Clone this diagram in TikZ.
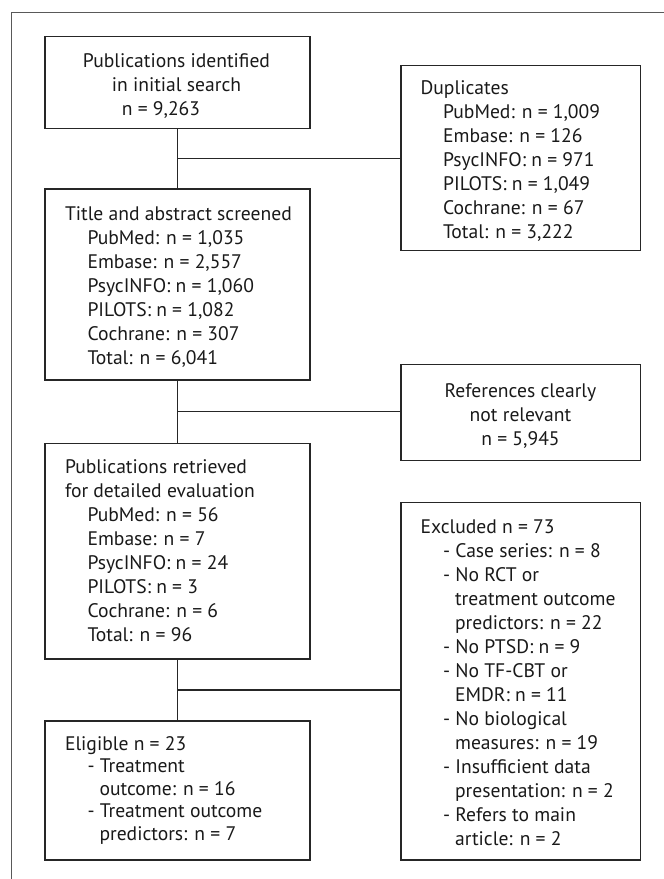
\documentclass[tikz,border=0pt]{standalone}
\usepackage{fontspec}
\setmainfont{PT Sans}
\usetikzlibrary{calc}
\newcommand\myinda{\hspace*{22.5pt}}
\newcommand\myindb{\hspace*{34.5pt}}
\begin{document}
\begin{tikzpicture}[x=1pt,y=-1pt,
  box/.style={draw=black!85, line width=1.3pt, inner sep=0pt},
  conn/.style={draw=black!85, line width=1.3pt},
  frameline/.style={draw=black!65, line width=1.5pt},
  txt/.style={inner sep=0pt, font=\fontsize{19.6}{24}\selectfont, text=black!90},
  ]
\useasboundingbox (0,0) rectangle (664,879);
\coordinate (fa) at (11.5,879);
\coordinate (fb) at (11.5,12.7);
\coordinate (fc) at (664,12.7);
\draw[frameline] (fa) -- (fb) -- (fc);

% boxes
\node[box, minimum width=265pt, minimum height=91.6pt] (b1) at (177.5,82.5) {};
\node[box, minimum width=265pt, minimum height=191pt] (b2) at (177.5,284.5) {};
\node[box, minimum width=265pt, minimum height=215.7pt] (b3) at (177.5,551.2) {};
\node[box, minimum width=265pt, minimum height=139pt] (b4) at (177.5,790.5) {};
\node[box, minimum width=239.7pt, minimum height=185pt] (dup) at (520.8,158.2) {};
\node[box, minimum width=239.7pt, minimum height=96pt] (ref) at (520.8,412.7) {};
\node[box, minimum width=239.7pt, minimum height=357.7pt] (exc) at (520.8,681.2) {};

% texts
\node[txt, align=center, anchor=north] (t1) at (176.5,50.8)
  {\rule{0pt}{16pt}Publications identified\\in initial search\\n = 9,263\hspace*{31pt}};
\node[txt, align=left, anchor=north west] (t2) at (64.8,204.2)
  {\rule{0pt}{16pt}Title and abstract screened\\\myinda PubMed: n = 1,035\\\myinda Embase: n = 2,557\\\myinda PsycINFO: n = 1,060\\\myinda PILOTS: n = 1,082\\\myinda Cochrane: n = 307\\\myinda Total: n = 6,041};
\node[txt, align=left, anchor=north west] (t3) at (64.8,457.5)
  {\rule{0pt}{16pt}Publications retrieved\\for detailed evaluation\\\myinda PubMed: n = 56\\\myinda Embase: n = 7\\\myinda PsycINFO: n = 24\\\myinda PILOTS: n = 3\\\myinda Cochrane: n = 6\\\myinda Total: n = 96};
\node[txt, font=\fontsize{19.6}{22.5}\selectfont, align=left, anchor=north west] (t4) at (64.8,734)
  {\rule{0pt}{16pt}Eligible n = 23\\\myinda - Treatment\\\myindb outcome: n = 16\\\myinda - Treatment outcome\\\myindb predictors: n = 7};
\node[txt, align=left, anchor=north west] (tdup) at (420.4,78.4)
  {\rule{0pt}{16pt}Duplicates\\\myinda PubMed: n = 1,009\\\myinda Embase: n = 126\\\myinda PsycINFO: n = 971\\\myinda PILOTS: n = 1,049\\\myinda Cochrane: n = 67\\\myinda Total: n = 3,222};
\node[txt, align=center, anchor=north] (tref) at (520.5,381.5)
  {\rule{0pt}{16pt}References clearly\\not relevant\\n = 5,945};
\node[txt, align=left, anchor=north west] (texc) at (420.4,517.5)
  {\rule{0pt}{16pt}Excluded n = 73\\\myinda - Case series: n = 8\\\myinda - No RCT or\\\myindb treatment outcome\\\myindb predictors: n = 22\\\myinda - No PTSD: n = 9\\\myinda - No TF-CBT or\\\myindb EMDR: n = 11\\\myinda - No biological\\\myindb measures: n = 19\\\myinda - Insufficient data\\\myindb presentation: n = 2\\\myinda - Refers to main\\\myindb article: n = 2};

% connectors
\coordinate (m1) at ($(b1.south)!0.5!(b2.north)$);
\coordinate (m2) at ($(b2.south)!0.5!(b3.north)$);
\coordinate (m3) at ($(b3.south)!0.5!(b4.north)$);
\draw[conn] (b1.south) -- (b2.north);
\draw[conn] (b2.south) -- (b3.north);
\draw[conn] (b3.south) -- (b4.north);
\draw[conn] (m1) -- (m1 -| dup.west);
\draw[conn] (m2) -- (m2 -| ref.west);
\draw[conn] (m3) -- (m3 -| exc.west);
\end{tikzpicture}
\end{document}
